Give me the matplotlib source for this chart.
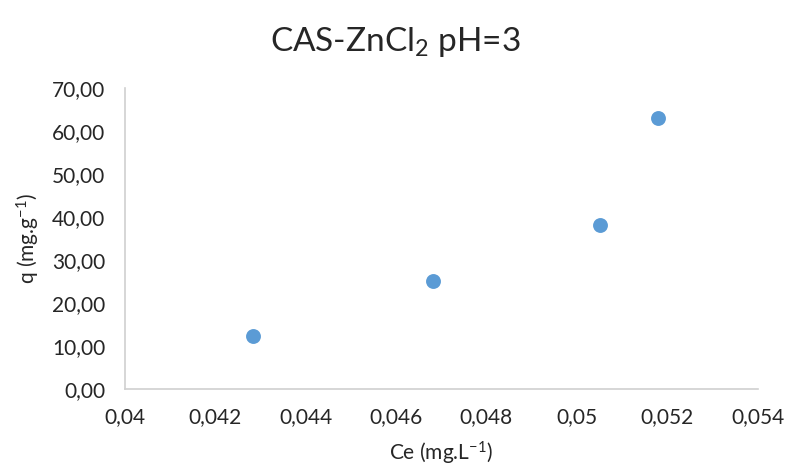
import matplotlib
matplotlib.use("Agg")
import matplotlib.pyplot as plt
from matplotlib.ticker import FuncFormatter, MultipleLocator

# Equilibrium concentration vs adsorbed amount
ce = [0.04284, 0.04682, 0.05051, 0.05180]
q = [12.4, 25.2, 38.2, 63.0]

x_ticks = [0.040, 0.042, 0.044, 0.046, 0.048, 0.050, 0.052, 0.054]

plt.rcParams["font.family"] = ["Lato", "DejaVu Sans"]
plt.rcParams["mathtext.default"] = "regular"

text_color = "#262626"
axis_color = "#D0D0D0"

fig = plt.figure(figsize=(7.9, 4.76), dpi=100)
ax = fig.add_axes([0.158, 0.183, 0.801, 0.632])

ax.scatter(ce, q, s=115, color="#5B9BD5", zorder=3, linewidths=0)

ax.set_xlim(0.040, 0.054)
ax.set_ylim(0, 70)
ax.set_xticks(x_ticks)
ax.yaxis.set_major_locator(MultipleLocator(10))


def comma_general(v, pos):
    s = f"{v:.3f}".rstrip("0").rstrip(".")
    return s.replace(".", ",")


ax.xaxis.set_major_formatter(FuncFormatter(comma_general))
ax.yaxis.set_major_formatter(FuncFormatter(lambda v, pos: f"{v:.2f}".replace(".", ",")))

for side in ("top", "right"):
    ax.spines[side].set_visible(False)
for side in ("left", "bottom"):
    ax.spines[side].set_color(axis_color)
    ax.spines[side].set_linewidth(1.2)

ax.tick_params(length=0, labelsize=15, colors=text_color)
ax.tick_params(axis="y", pad=14)
ax.tick_params(axis="x", pad=13)

ax.set_xlabel("Ce (mg.L$^{-1}$)", fontsize=15, color=text_color, labelpad=9)
ax.set_ylabel("q (mg.g$^{-1}$)", fontsize=15, color=text_color, labelpad=7)

fig.text(0.5, 0.912, "CAS-ZnCl$_2$ pH=3", ha="center", va="center",
         fontsize=24, color=text_color)

fig.savefig("out.png", dpi=100)
plt.close(fig)
